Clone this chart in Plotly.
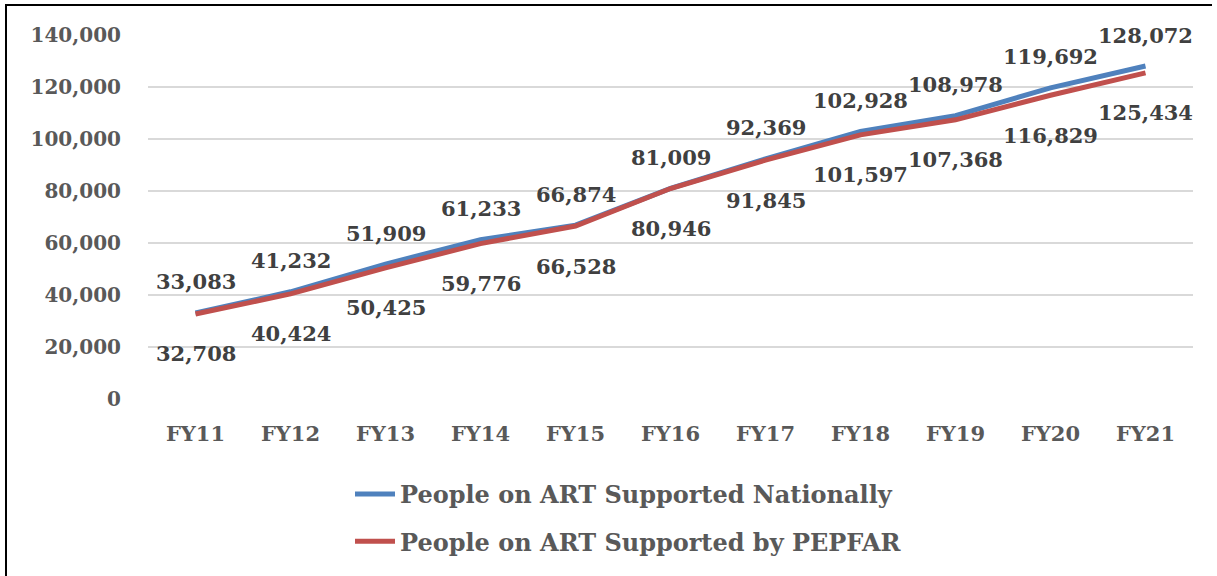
import plotly.graph_objects as go

# Fiscal years and people on antiretroviral therapy (ART)
years = ["FY11", "FY12", "FY13", "FY14", "FY15", "FY16", "FY17", "FY18", "FY19", "FY20", "FY21"]
national = [33083, 41232, 51909, 61233, 66874, 81009, 92369, 102928, 108978, 119692, 128072]
pepfar = [32708, 40424, 50425, 59776, 66528, 80946, 91845, 101597, 107368, 116829, 125434]
y_ticks = [0, 20000, 40000, 60000, 80000, 100000, 120000, 140000]

FONT = "DejaVu Serif"
AXIS_GREY = "#595959"
LABEL_GREY = "#404040"
BLUE = "#4F81BD"
RED = "#C0504D"

fig = go.Figure()
fig.add_trace(go.Scatter(
    x=years, y=national, mode="lines", name="People on ART Supported Nationally",
    line=dict(color=BLUE, width=5), legendgroup="nat",
))
fig.add_trace(go.Scatter(
    x=years, y=pepfar, mode="lines", name="People on ART Supported by PEPFAR",
    line=dict(color=RED, width=5), legendgroup="pep",
))

# value labels: national above the line, PEPFAR below
annotations = []
for yr, v in zip(years, national):
    annotations.append(dict(x=yr, y=v, text=f"{v:,}", showarrow=False, yshift=31,
                            font=dict(family=FONT, size=21, color=LABEL_GREY, weight="bold")))
for yr, v in zip(years, pepfar):
    annotations.append(dict(x=yr, y=v, text=f"{v:,}", showarrow=False, yshift=-40,
                            font=dict(family=FONT, size=21, color=LABEL_GREY, weight="bold")))

# left/top frame lines
L, R, T, B = 148, 1193, 35, 399
def px(p):
    return (p - L) / (R - L)
def py(p):
    return (B - p) / (B - T)
shapes = [
    dict(type="line", xref="paper", yref="paper", x0=px(6), x1=px(6), y0=py(4), y1=py(576),
         line=dict(color="black", width=2)),
    dict(type="line", xref="paper", yref="paper", x0=px(6), x1=px(1212), y0=py(5), y1=py(5),
         line=dict(color="black", width=2)),
]

fig.update_layout(
    width=1217, height=576,
    margin=dict(l=L, r=1217 - R, t=T, b=576 - B, autoexpand=False),
    paper_bgcolor="white", plot_bgcolor="white",
    font=dict(family=FONT, color=AXIS_GREY),
    showlegend=True,
    legend=dict(
        xref="container", yref="container", x=350 / 1217, y=1 - 472 / 576,
        xanchor="left", yanchor="top", traceorder="grouped", tracegroupgap=13,
        font=dict(family=FONT, size=24, color=AXIS_GREY, weight="bold"),
        itemwidth=40, bgcolor="rgba(0,0,0,0)",
    ),
    annotations=annotations,
    shapes=shapes,
    xaxis=dict(
        range=[-0.5, 10.5], showgrid=False, zeroline=False, showline=False, ticks="",
        tickangle=0,
        tickfont=dict(family=FONT, size=21, color=AXIS_GREY, weight="bold"),
        ticklabelstandoff=20,
    ),
    yaxis=dict(
        range=[0, 140000], tickvals=y_ticks, tickformat=",d",
        showgrid=True, gridcolor="#D9D9D9", gridwidth=1.5, zeroline=False, showline=False, ticks="",
        tickfont=dict(family=FONT, size=20, color=AXIS_GREY, weight="bold"),
        ticklabelstandoff=26,
    ),
)

fig.write_html("out.html")
